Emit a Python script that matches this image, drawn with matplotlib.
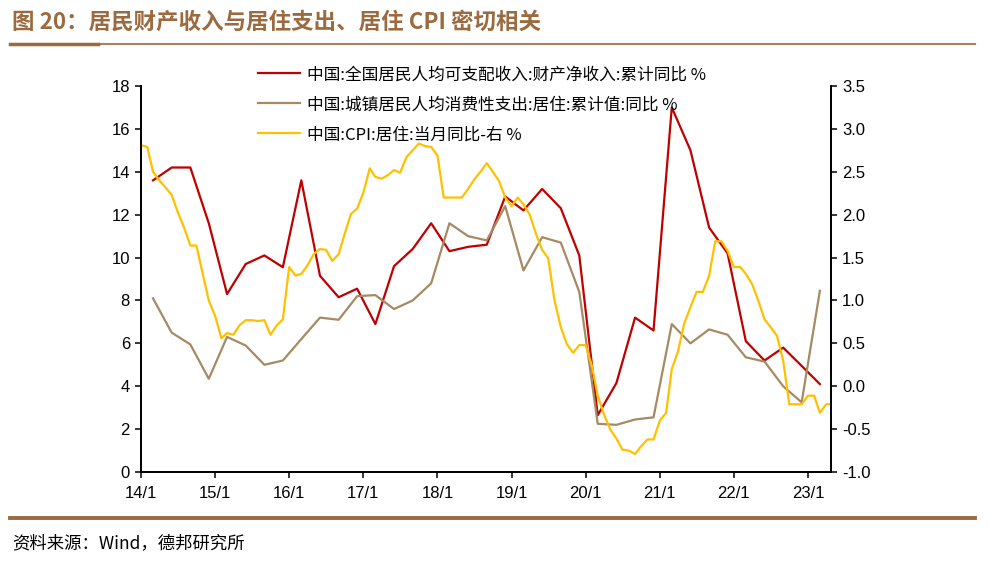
import numpy as np
import pandas as pd
import matplotlib
matplotlib.use('Agg')
import matplotlib.pyplot as plt
import matplotlib.dates as mdates
from matplotlib.ticker import FixedLocator, FuncFormatter

plt.rcParams['font.family'] = ['Noto Sans CJK SC', 'DejaVu Sans']
plt.rcParams['axes.unicode_minus'] = False

# 季度数据 14Q1 - 23Q1
quarters = pd.date_range('2014-03-01', periods=37, freq='3MS')
income = [13.6, 14.2, 14.2, 11.6,
          8.3, 9.7, 10.1, 9.55,
          13.6, 9.15, 8.15, 8.55,
          6.9, 9.6, 10.4, 11.6,
          10.3, 10.5, 10.6, 12.85,
          12.2, 13.2, 12.3, 10.1,
          2.65, 4.15, 7.2, 6.6,
          17.0, 15.0, 11.4, 10.2,
          6.1, 5.2, 5.8, 4.95,
          4.1]
housing = [8.1, 6.5, 5.95, 4.35,
           6.3, 5.9, 5.0, 5.2,
           6.2, 7.2, 7.1, 8.2,
           8.25, 7.6, 8.0, 8.8,
           11.6, 11.0, 10.8, 12.4,
           9.4, 10.95, 10.7, 8.4,
           2.25, 2.2, 2.45, 2.55,
           6.9, 6.0, 6.65, 6.4,
           5.35, 5.15, 4.0, 3.25,
           8.45]

# 月度数据 2014-01 - 2023-05
months = pd.date_range('2014-01-01', periods=113, freq='MS')
cpi = [2.81, 2.79, 2.50, 2.40, 2.32, 2.23, 2.03, 1.85, 1.64, 1.64, 1.31, 1.00,
       0.82, 0.56, 0.62, 0.60, 0.71, 0.77, 0.77, 0.76, 0.77, 0.60, 0.71, 0.78,
       1.39, 1.29, 1.31, 1.41, 1.54, 1.60, 1.59, 1.46, 1.54, 1.78, 2.01, 2.07,
       2.26, 2.54, 2.44, 2.42, 2.46, 2.52, 2.49, 2.67, 2.75, 2.83, 2.80, 2.79,
       2.69, 2.20, 2.20, 2.20, 2.20, 2.30, 2.41, 2.50, 2.60, 2.50, 2.39, 2.20,
       2.10, 2.20, 2.12, 2.00, 1.78, 1.59, 1.49, 1.00, 0.69, 0.49, 0.39, 0.48,
       0.48, 0.24, -0.11, -0.33, -0.50, -0.61, -0.74, -0.75, -0.79, -0.70, -0.62, -0.62,
       -0.40, -0.31, 0.20, 0.41, 0.73, 0.92, 1.10, 1.10, 1.29, 1.69, 1.69, 1.58,
       1.39, 1.39, 1.31, 1.19, 1.00, 0.78, 0.69, 0.59, 0.30, -0.21, -0.21, -0.21,
       -0.11, -0.11, -0.31, -0.21, -0.21]

labels = ['中国:全国居民人均可支配收入:财产净收入:累计同比 %',
          '中国:城镇居民人均消费性支出:居住:累计值:同比 %',
          '中国:CPI:居住:当月同比-右 %']
title = '图 20：居民财产收入与居住支出、居住 CPI 密切相关'
source = '资料来源：Wind，德邦研究所'

brown = '#9C6A3F'
tick_font = 'Liberation Sans'

fig = plt.figure(figsize=(9.89, 5.63), dpi=100)
ax = fig.add_axes([0.1426, 0.1616, 0.6977, 0.6856])
ax2 = ax.twinx()

l1, = ax.plot(quarters, income, color='#C00000', lw=1.6)
l2, = ax.plot(quarters, housing, color='#A68A64', lw=1.6)
l3, = ax2.plot(months, cpi, color='#FFC000', lw=1.6)

ax.set_xlim(pd.Timestamp('2014-01-01'), pd.Timestamp('2023-04-25'))
ax.set_ylim(0, 18)
ax.set_yticks(np.arange(0, 19, 2))
ax2.set_ylim(-1.0, 3.5)
ax2.set_yticks(np.arange(-1.0, 3.51, 0.5))
ax2.yaxis.set_major_formatter(FuncFormatter(lambda v, p: f'{v:.1f}'))

years = pd.date_range('2014-01-01', periods=10, freq='12MS')
ax.xaxis.set_major_locator(FixedLocator(mdates.date2num(years)))
ax.xaxis.set_major_formatter(FuncFormatter(
    lambda v, p: f'{mdates.num2date(v).year % 100}/{mdates.num2date(v).month}'))

for a in (ax, ax2):
    a.spines['top'].set_visible(False)
    for s in ('left', 'right', 'bottom'):
        a.spines[s].set_linewidth(1.3)
    a.tick_params(axis='both', direction='out', length=4, width=1.1,
                  labelsize=12, pad=4)
    for t in a.get_xticklabels() + a.get_yticklabels():
        t.set_fontfamily(tick_font)
ax.tick_params(axis='x', pad=6)

fig.legend([l1, l2, l3], labels, loc='upper left',
           bbox_to_anchor=(250 / 989, 1 - 58 / 563), frameon=False,
           fontsize=12, handlelength=2.5, handletextpad=0.4,
           labelspacing=0.78, borderpad=0)

fig.text(12 / 989, 1 - 22 / 563, title, fontsize=16.2, fontweight='bold',
         color=brown, va='center', ha='left')
fig.add_artist(plt.Line2D([10 / 989, 975 / 989], [1 - 44 / 563] * 2,
                          color='#A98260', lw=1.5))
fig.add_artist(plt.Line2D([10 / 989, 98 / 989], [1 - 44 / 563] * 2,
                          color=brown, lw=2.5))
fig.add_artist(plt.Line2D([10 / 989, 975 / 989], [1 - 518 / 563] * 2,
                          color=brown, lw=2.8))
fig.text(12 / 989, 1 - 543 / 563, source, fontsize=12.5, color='black',
         va='center', ha='left')

fig.savefig('out.png', dpi=100)
